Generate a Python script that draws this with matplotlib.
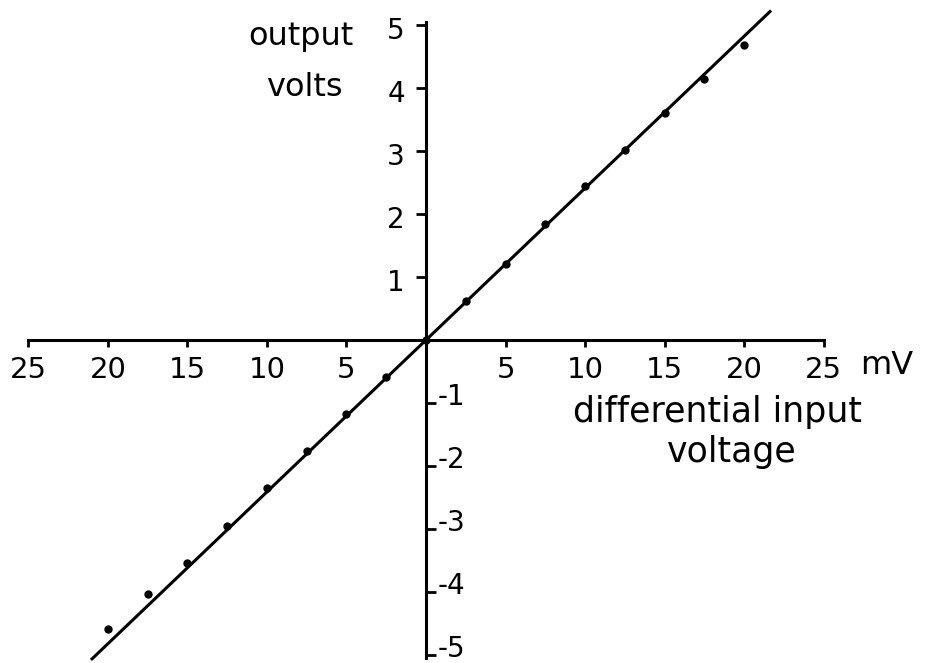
import numpy as np
import matplotlib
matplotlib.use("Agg")
import matplotlib.pyplot as plt

# Measured transfer characteristic of the differential amplifier
input_mv = [-20, -17.5, -15, -12.5, -10, -7.5, -5, -2.5, 0,
            2.5, 5, 7.5, 10, 12.5, 15, 17.5, 20]
output_v = [-4.59, -4.03, -3.54, -2.95, -2.35, -1.76, -1.17, -0.59, 0.0,
            0.62, 1.21, 1.84, 2.44, 3.02, 3.60, 4.14, 4.68]

# Straight-line fit drawn through the origin
fit_gain = 0.241            # volts per millivolt
fit_range_mv = [-21.07, 21.7]

x_ticks = [-25, -20, -15, -10, -5, 5, 10, 15, 20, 25]
x_tick_labels = ["25", "20", "15", "10", "5", "5", "10", "15", "20", "25"]
y_ticks_pos = [1, 2, 3, 4, 5]
y_ticks_neg = [-1, -2, -3, -4, -5]
y_labels_pos = ["1", "2", "3", "4", "5"]
y_labels_neg = ["-1", "-2", "-3", "-4", "-5"]

plt.rcParams["font.family"] = ["DejaVu Sans"]

fig = plt.figure(figsize=(9.28, 6.63), dpi=100)
ax = fig.add_axes([0, 0, 1, 1])
ax.set_xlim(-26.79, 31.57)
ax.set_ylim(-5.127, 5.397)
ax.patch.set_visible(False)

lw = 2.2
for side in ("top", "right"):
    ax.spines[side].set_visible(False)
ax.spines["left"].set_position(("data", 0))
ax.spines["bottom"].set_position(("data", 0))
ax.spines["left"].set_bounds(-5.05, 5.05)
ax.spines["bottom"].set_bounds(-25, 25)
for side in ("left", "bottom"):
    ax.spines[side].set_linewidth(lw)
    ax.spines[side].set_color("black")

# x ticks hang below the axis
ax.set_xticks(x_ticks)
ax.set_xticklabels([])
ax.tick_params(axis="x", direction="out", length=5, width=2.0, color="black")

# positive y ticks point left, negative ones point right
ax.set_yticks(y_ticks_pos)
ax.set_yticks(y_ticks_neg, minor=True)
ax.set_yticklabels([])
ax.set_yticklabels([], minor=True)
ax.tick_params(axis="y", which="major", direction="out", length=7, width=2.0, color="black")
ax.tick_params(axis="y", which="minor", direction="in", length=7, width=2.0, color="black")

tick_fs = 20
for xv, lab in zip(x_ticks, x_tick_labels):
    ax.annotate(lab, xy=(xv, 0), xytext=(0, -38), textcoords="offset pixels",
                ha="center", va="baseline", fontsize=21)
for yv, lab in zip(y_ticks_pos, y_labels_pos):
    ax.annotate(lab, xy=(0, yv), xytext=(-21, -14), textcoords="offset pixels",
                ha="right", va="baseline", fontsize=tick_fs)
for yv, lab in zip(y_ticks_neg, y_labels_neg):
    ax.annotate(lab, xy=(0, yv), xytext=(12, -2), textcoords="offset pixels",
                ha="left", va="baseline", fontsize=tick_fs)

# fitted line and measured points
fit_x = np.array(fit_range_mv)
ax.plot(fit_x, fit_gain * fit_x, color="black", lw=lw, solid_capstyle="butt")
ax.plot(input_mv, output_v, "o", color="black", ms=5)

# axis titles
W, H = 928, 663
def px(x, y):
    return x / W, 1 - y / H

ax.text(*px(860, 374), "mV", transform=ax.transAxes, fontsize=23,
        ha="left", va="baseline")
ax.text(*px(248, 45), "output", transform=ax.transAxes, fontsize=23,
        ha="left", va="baseline")
ax.text(*px(266, 96), "volts", transform=ax.transAxes, fontsize=23,
        ha="left", va="baseline")
ax.text(*px(573, 422), "differential input", transform=ax.transAxes, fontsize=25,
        ha="left", va="baseline")
ax.text(*px(667, 462), "voltage", transform=ax.transAxes, fontsize=25,
        ha="left", va="baseline")

fig.savefig("out.png", dpi=100, facecolor="white")
